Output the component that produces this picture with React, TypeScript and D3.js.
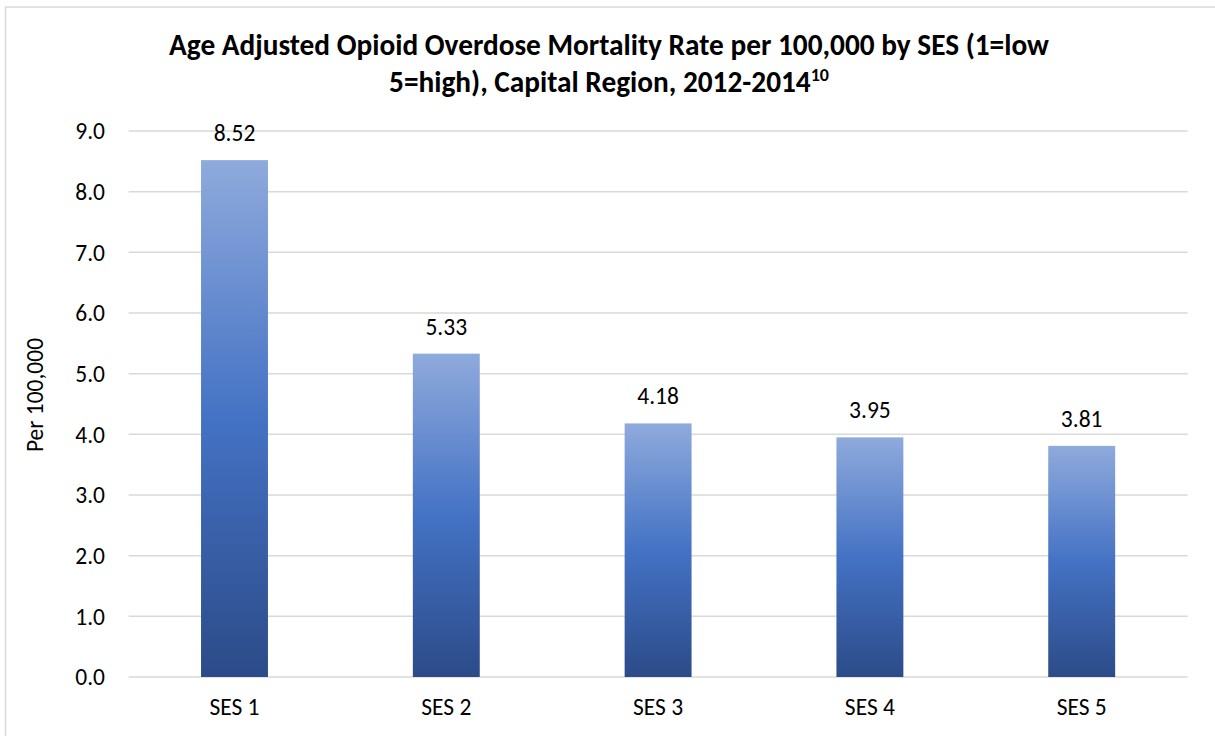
import * as React from 'react';
import * as d3 from 'd3';

const categories = ['SES 1', 'SES 2', 'SES 3', 'SES 4', 'SES 5'];
const rates = [8.52, 5.33, 4.18, 3.95, 3.81];
const yTicks = [0, 1, 2, 3, 4, 5, 6, 7, 8, 9];
const titleLines = ['Age Adjusted Opioid Overdose Mortality Rate per 100,000 by SES (1=low', '5=high), Capital Region, 2012-2014'];
const titleNote = '10';
const yTitle = 'Per 100,000';

const W = 1215;
const H = 736;
const FONT = "Carlito, Calibri, Lato, 'Open Sans', sans-serif";

const App: React.FC = () => {
    const x = d3.scaleBand<string>().domain(categories).range([128.6, 1187.6]).paddingInner(0.684).paddingOuter(0.342);
    const y = d3.scaleLinear().domain([0, 9]).range([677, 131]);

    return (
        <svg width={W} height={H} style={{ position: 'absolute', left: 0, top: 0, display: 'block' }} fontFamily={FONT}>
            <defs>
                <linearGradient id="barGrad" x1="0" y1="0" x2="0" y2="1">
                    <stop offset="0" stopColor="#8faadc" />
                    <stop offset="0.5" stopColor="#4472c4" />
                    <stop offset="1" stopColor="#2c4b88" />
                </linearGradient>
            </defs>
            <rect x={0} y={0} width={W} height={H} fill="#fff" />
            <rect x={5.5} y={7} width={W + 10} height={H + 10} fill="none" stroke="#d9d9d9" strokeWidth={1.5} />

            {/* title */}
            <text x={609} y={55} textAnchor="middle" fontSize={29.3} fontWeight="bold" fill="#000">{titleLines[0]}</text>
            <text x={609} y={92} textAnchor="middle" fontSize={29.3} fontWeight="bold" fill="#000">
                {titleLines[1]}
                <tspan fontSize={18} dy={-11}>{titleNote}</tspan>
            </text>

            {/* grid + y ticks */}
            {yTicks.map(t => (
                <g key={t}>
                    <line x1={128.6} x2={1187.6} y1={y(t)} y2={y(t)} stroke="#d9d9d9" strokeWidth={1.5} />
                    <text x={105} y={y(t)} dy="0.35em" textAnchor="end" fontSize={23.5} fill="#000">{t.toFixed(1)}</text>
                </g>
            ))}

            <text transform={`translate(43,${395}) rotate(-90)`} textAnchor="middle" fontSize={23.5} fill="#000">{yTitle}</text>

            {/* bars */}
            {categories.map((c, i) => (
                <g key={c}>
                    <rect x={x(c)} y={y(rates[i])} width={x.bandwidth()} height={y(0) - y(rates[i])} fill="url(#barGrad)" />
                    <text x={(x(c) as number) + x.bandwidth() / 2} y={y(rates[i]) - 19} textAnchor="middle" fontSize={23.5} fill="#000">{rates[i].toFixed(2)}</text>
                    <text x={(x(c) as number) + x.bandwidth() / 2} y={715} textAnchor="middle" fontSize={23.5} fill="#000">{c}</text>
                </g>
            ))}
        </svg>
    );
};

export default App;
